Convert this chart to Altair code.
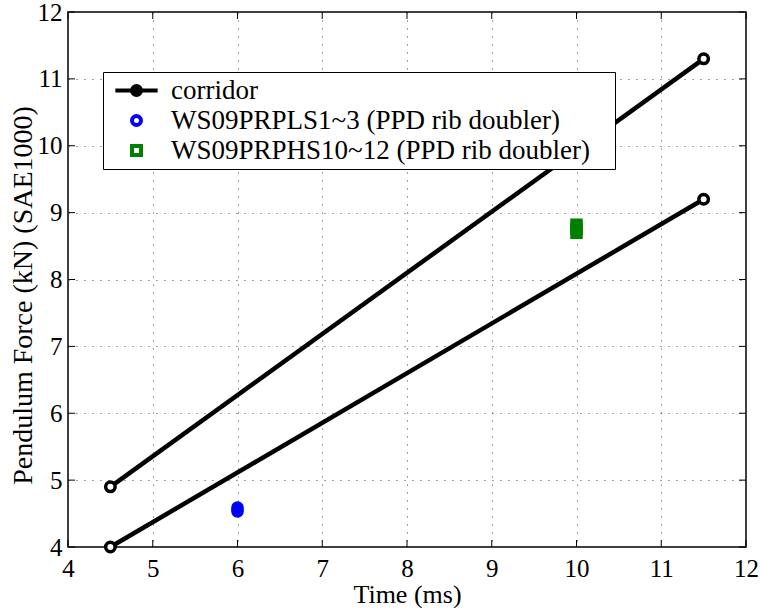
import altair as alt
import pandas as pd

# ---- data ----
X_TICKS = [4, 5, 6, 7, 8, 9, 10, 11, 12]
Y_TICKS = [4, 5, 6, 7, 8, 9, 10, 11, 12]

CORRIDOR_TIME = [4.5, 11.5]
UPPER_FORCE = [4.9, 11.3]
LOWER_FORCE = [4.0, 9.2]

PLS_TIME = [6.0, 6.0, 6.0]
PLS_FORCE = [4.53, 4.56, 4.59]
PHS_TIME = [10.0, 10.0, 10.0]
PHS_FORCE = [8.70, 8.76, 8.82]

SERIES = ["corridor", "WS09PRPLS1~3 (PPD rib doubler)", "WS09PRPHS10~12 (PPD rib doubler)"]
COLORS = ["#000000", "#0000ff", "#008000"]

# legend symbol for the corridor: a line with a circle marker
CORRIDOR_SYMBOL = ("M-4.7,0L4.7,0M1,0A1,1,0,1,1,-1,0A1,1,0,1,1,1,0"
                   "M0.4,0A0.4,0.4,0,1,1,-0.4,0A0.4,0.4,0,1,1,0.4,0")
SHAPES = [CORRIDOR_SYMBOL, "circle", "square"]

FONT = "Liberation Serif"
W, H = 678, 535
TICK = 7

corridor = pd.DataFrame({
    "bound": ["upper"] * len(CORRIDOR_TIME) + ["lower"] * len(CORRIDOR_TIME),
    "time": CORRIDOR_TIME + CORRIDOR_TIME,
    "force": UPPER_FORCE + LOWER_FORCE,
})
scatter = pd.DataFrame({
    "series": [SERIES[1]] * len(PLS_TIME) + [SERIES[2]] * len(PHS_TIME),
    "time": PLS_TIME + PHS_TIME,
    "force": PLS_FORCE + PHS_FORCE,
})
xt = pd.DataFrame({"v": X_TICKS})
yt = pd.DataFrame({"v": Y_TICKS})

x_axis = alt.Axis(values=X_TICKS, title="Time (ms)", grid=True, gridDash=[1, 7],
                  gridColor="#444444", gridWidth=1, ticks=False, tickSize=0, domain=False,
                  labelFont=FONT, labelFontSize=25, labelColor="black", labelPadding=29,
                  labelBaseline="alphabetic", labelFlush=False,
                  titleFont=FONT, titleFontSize=26, titleFontWeight="normal", titleColor="black",
                  titleBaseline="alphabetic", titleY=55)
y_axis = alt.Axis(values=Y_TICKS, title="Pendulum Force (kN) (SAE1000)", grid=True,
                  gridDash=[1, 7], gridColor="#444444", gridWidth=1, ticks=False, tickSize=0,
                  domain=False, labelFont=FONT, labelFontSize=25, labelColor="black",
                  labelPadding=6, labelFlush=False,
                  titleFont=FONT, titleFontSize=28, titleFontWeight="normal", titleColor="black",
                  titleX=-45, titleY=283, titleBaseline="middle")

xs = alt.Scale(domain=[4, 12], nice=False, zero=False)
ys = alt.Scale(domain=[4, 12], nice=False, zero=False)

X = alt.X("time:Q", scale=xs, axis=x_axis)
Y = alt.Y("force:Q", scale=ys, axis=y_axis)

# inward ticks on all four sides
tick_bottom = alt.Chart(xt).mark_rule(color="black", strokeWidth=1).encode(
    x=alt.X("v:Q", scale=xs, axis=x_axis), y=alt.value(H), y2=alt.value(H - TICK))
tick_top = alt.Chart(xt).mark_rule(color="black", strokeWidth=1).encode(
    x=alt.X("v:Q", scale=xs, axis=x_axis), y=alt.value(0), y2=alt.value(TICK))
tick_left = alt.Chart(yt).mark_rule(color="black", strokeWidth=1).encode(
    y=alt.Y("v:Q", scale=ys, axis=y_axis), x=alt.value(0), x2=alt.value(TICK))
tick_right = alt.Chart(yt).mark_rule(color="black", strokeWidth=1).encode(
    y=alt.Y("v:Q", scale=ys, axis=y_axis), x=alt.value(W), x2=alt.value(W - TICK))

lines = alt.Chart(corridor).mark_line(color="black", strokeWidth=4.5).encode(
    x=X, y=Y, detail="bound:N")
ends = alt.Chart(corridor).mark_point(shape="circle", size=90, filled=True, fill="white",
                                      stroke="black", strokeWidth=3.5, opacity=1).encode(
    x=X, y=Y, detail="bound:N")

pts = alt.Chart(scatter).mark_point(filled=False, size=64, strokeWidth=4.5, opacity=1).encode(
    x=X, y=Y,
    color=alt.Color("series:N", scale=alt.Scale(domain=SERIES, range=COLORS), sort=SERIES,
                    title=None,
                    legend=alt.Legend(orient="none", legendX=35, legendY=60,
                                      strokeColor="black", fillColor="white", padding=5,
                                      labelFont=FONT, labelFontSize=27, labelColor="black",
                                      labelLimit=0,
                                      labelExpr="datum.label + '\u2800'",
                                      symbolSize=81, symbolStrokeWidth=4,
                                      symbolOffset=15, labelOffset=21, rowPadding=2)),
    shape=alt.Shape("series:N", scale=alt.Scale(domain=SERIES, range=SHAPES), sort=SERIES,
                    title=None),
)

chart = alt.layer(tick_bottom, tick_top, tick_left, tick_right, lines, ends, pts).properties(
    width=W, height=H,
    padding={"left": 68, "top": 12, "right": 16, "bottom": 61},
    autosize=alt.AutoSizeParams(type="none"),
    background="white",
).configure_view(stroke="black", strokeWidth=1.5)

chart.save("out.html", embed_options={"renderer": "svg", "actions": False})
